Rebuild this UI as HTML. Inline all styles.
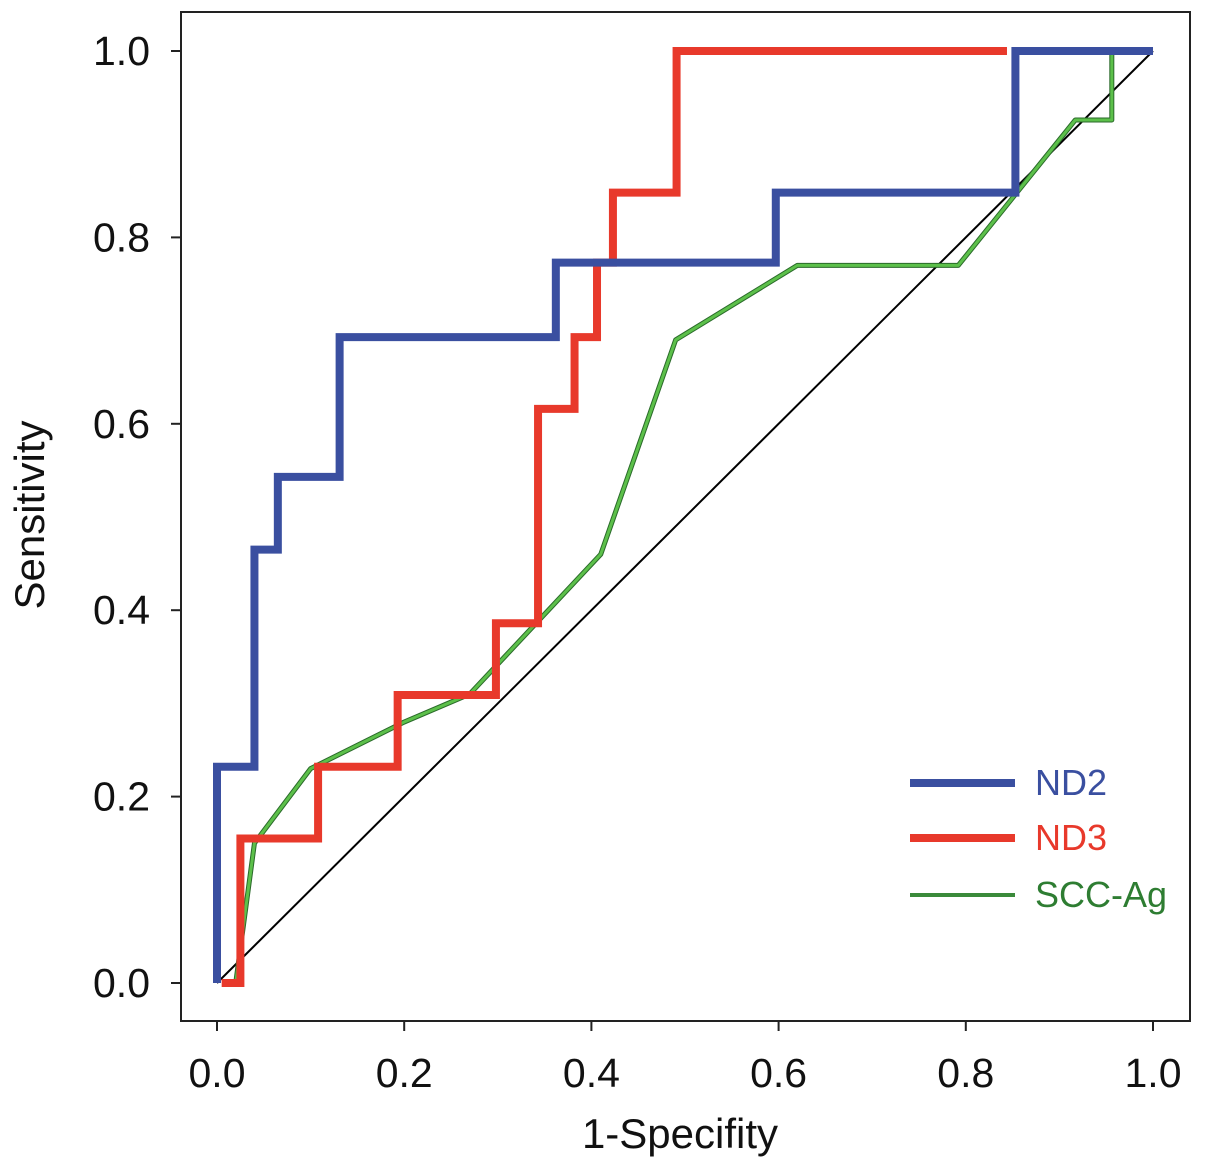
<!DOCTYPE html>
<html><head><meta charset="utf-8"><style>
html,body{margin:0;padding:0;background:#fff;}
svg{display:block;font-family:"Liberation Sans",Arial,sans-serif;}
</style></head><body>
<svg id="chart" width="1205" height="1170">
<rect x="181" y="12" width="1009" height="1009" fill="none" stroke="#222" stroke-width="2"/>
<g id="axes"></g>
<g id="series"></g>
<text x="44" y="515" transform="rotate(-90 44 515)" text-anchor="middle" font-size="42" fill="#111">Sensitivity</text>
<text x="680" y="1148" text-anchor="middle" font-size="42" fill="#111">1-Specifity</text>
<g>
<line x1="910" y1="783" x2="1015" y2="783" stroke="#3a4fa0" stroke-width="8"/>
<text x="1035" y="795" font-size="36" fill="#3a4fa0">ND2</text>
<line x1="910" y1="838" x2="1015" y2="838" stroke="#e8392b" stroke-width="8"/>
<text x="1035" y="850" font-size="36" fill="#e8392b">ND3</text>
<line x1="910" y1="895" x2="1015" y2="895" stroke="#3a8a3a" stroke-width="4"/>
<text x="1035" y="907" font-size="36" fill="#2e7d32">SCC-Ag</text>
</g>
</svg>
<script>
const xTicks=[0,0.2,0.4,0.6,0.8,1.0];
const yTicks=[0,0.2,0.4,0.6,0.8,1.0];
const tickLabels=["0.0","0.2","0.4","0.6","0.8","1.0"];
const nd2X=[0,0,0.04,0.04,0.065,0.065,0.131,0.131,0.362,0.362,0.597,0.597,0.853,0.853,1.0];
const nd2Y=[0,0.232,0.232,0.465,0.465,0.543,0.543,0.693,0.693,0.773,0.773,0.848,0.848,1.0,1.0];
const nd3X=[0.005,0.025,0.025,0.108,0.108,0.193,0.193,0.298,0.298,0.343,0.343,0.382,0.382,0.406,0.406,0.423,0.423,0.491,0.491,0.844];
const nd3Y=[0,0,0.155,0.155,0.232,0.232,0.309,0.309,0.386,0.386,0.616,0.616,0.693,0.693,0.773,0.773,0.848,0.848,1.0,1.0];
const sccX=[0.02,0.04,0.1,0.2,0.27,0.41,0.49,0.62,0.792,0.917,0.956,0.956,1.0];
const sccY=[0.0,0.15,0.23,0.28,0.31,0.46,0.69,0.77,0.77,0.926,0.926,1.0,1.0];
const NS="http://www.w3.org/2000/svg";
const sx=v=>217+v*936, sy=v=>983-v*932;
const axes=document.getElementById('axes'), ser=document.getElementById('series');
function mk(t,a,p){const e=document.createElementNS(NS,t);for(const k in a)e.setAttribute(k,a[k]);p.appendChild(e);return e;}
xTicks.forEach((v,i)=>{
 const l=mk('line',{x1:sx(v),x2:sx(v),y1:1021,y2:1031,stroke:'#222','stroke-width':2},axes);
 
 
 const t=mk('text',{x:sx(v),y:1087,'text-anchor':'middle','font-size':41,fill:'#111'},axes);
 t.textContent=tickLabels[i];
 
 
});
yTicks.forEach((v,i)=>{
 const l=mk('line',{x1:171,x2:181,y1:sy(v),y2:sy(v),stroke:'#222','stroke-width':2},axes);
 
 
 const t=mk('text',{x:150,y:sy(v)+14,'text-anchor':'end','font-size':41,fill:'#111'},axes);
 t.textContent=tickLabels[i];
 
 
});
const diag=mk('line',{x1:sx(0),y1:sy(0),x2:sx(1),y2:sy(1),stroke:'#000','stroke-width':2},ser);


function pts(X,Y){return X.map((x,i)=>sx(x)+','+sy(Y[i])).join(' ');}
const s1=mk('polyline',{points:pts(sccX,sccY),fill:'none',stroke:'#2a6a2a','stroke-width':5,'stroke-linejoin':'round'},ser);


const s2=mk('polyline',{points:pts(sccX,sccY),fill:'none',stroke:'#5cc04a','stroke-width':3,'stroke-linejoin':'round'},ser);


const r=mk('polyline',{points:pts(nd3X,nd3Y),fill:'none',stroke:'#e8392b','stroke-width':8},ser);


const b=mk('polyline',{points:pts(nd2X,nd2Y),fill:'none',stroke:'#3a4fa0','stroke-width':8},ser);


</script>
</body></html>
